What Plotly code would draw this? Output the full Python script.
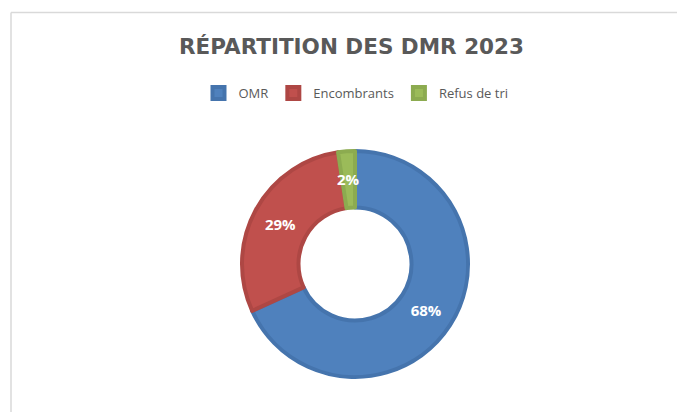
import math
import plotly.graph_objects as go

categories = ["OMR", "Encombrants", "Refus de tri"]
values = [68.2, 29.4, 2.4]
colors = ["#4F81BD", "#C0504D", "#9BBB59"]
line_colors = ["#4574AD", "#AE4744", "#8CAB50"]

# page has an 8px body margin; figure coordinates = page coordinates - 8
OFF = 8
W, H = 685 - OFF, 412 - OFF
cx, cy, r = 355 - OFF, 264 - OFF, 113
HOLE = 0.5

total = sum(values)
# slices too thin for plotly to centre their label get it via an annotation in the ring
thin = [v / total < 0.05 for v in values]
positions = ["none" if t else "inside" for t in thin]

fig = go.Figure(go.Pie(
    labels=categories,
    values=values,
    hole=HOLE,
    sort=False,
    direction="clockwise",
    rotation=0,
    marker=dict(colors=colors, line=dict(color=line_colors, width=4)),
    texttemplate="%{percent:.0%}",
    textposition=positions,
    insidetextorientation="horizontal",
    textfont=dict(family="Open Sans", size=15, color="white", weight="bold"),
    domain=dict(x=[(cx - r) / W, (cx + r) / W], y=[(H - cy - r) / H, (H - cy + r) / H]),
    hoverinfo="label+percent",
))

annotations = []
cum = 0.0
for v, t in zip(values, thin):
    mid = (cum + v / 2) / total * 2 * math.pi
    cum += v
    if t:
        rr = r * (1 + HOLE) / 2
        annotations.append(dict(
            x=(cx + rr * math.sin(mid)) / W, y=1 - (cy - rr * math.cos(mid)) / H,
            xref="paper", yref="paper", showarrow=False,
            text=f"{round(v / total * 100)}%",
            font=dict(family="Open Sans", size=15, color="white", weight="bold"),
        ))

fig.update_layout(
    width=W, height=H,
    margin=dict(l=0, r=0, t=0, b=0),
    paper_bgcolor="white",
    title=dict(text="<b>RÉPARTITION DES DMR 2023</b>", x=(351.5 - OFF) / W, xanchor="center",
               y=1 - (46 - OFF) / H, yanchor="middle",
               font=dict(family="DejaVu Sans", size=21.5, color="#595959")),
    showlegend=True,
    legend=dict(orientation="h", x=(356 - OFF) / W, xanchor="center", y=1 - (93 - OFF) / H, yanchor="middle",
                font=dict(family="Open Sans", size=13, color="#595959"),
                itemwidth=30, tracegroupgap=0),
    annotations=annotations,
    shapes=[
        dict(type="line", xref="paper", yref="paper", x0=(11 - OFF) / W, x1=(11 - OFF) / W, y0=0,
             y1=1 - (12.5 - OFF) / H, line=dict(color="#D9D9D9", width=1.5)),
        dict(type="line", xref="paper", yref="paper", x0=(11 - OFF) / W, x1=1, y0=1 - (12.5 - OFF) / H,
             y1=1 - (12.5 - OFF) / H, line=dict(color="#D9D9D9", width=1.5)),
    ],
)

fig.write_html("out.html")
